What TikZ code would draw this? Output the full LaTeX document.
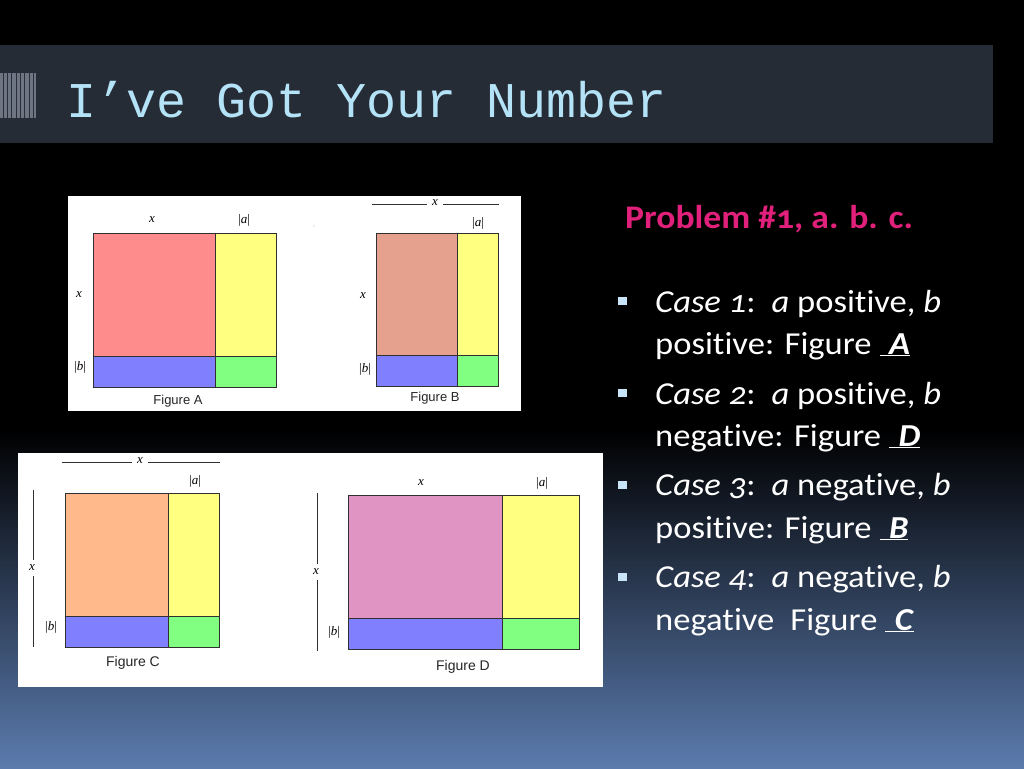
\documentclass[tikz,border=0pt]{standalone}
\usepackage{fontspec}
\setmainfont{Carlito}
\newfontfamily\titlefont{Liberation Mono}
\newfontfamily\figserif{Liberation Serif}
\newfontfamily\figsans{Liberation Sans}
\newfontfamily\slidefont[Numbers=OldStyle,FakeStretch=1.08,Ligatures=NoCommon]{Carlito}
\definecolor{bgblue}{HTML}{5B7BAE}
\definecolor{bgmid}{HTML}{1A2436}
\definecolor{titlebar}{HTML}{262C36}
\definecolor{titletext}{HTML}{B4E2F6}
\definecolor{iconlight}{HTML}{6E7684}
\definecolor{icondark}{HTML}{2A303A}
\definecolor{figA}{HTML}{FF8C8C}
\definecolor{figB}{HTML}{E6A08E}
\definecolor{figC}{HTML}{FFB98A}
\definecolor{figD}{HTML}{E094C4}
\definecolor{figyellow}{HTML}{FFFF80}
\definecolor{figblue}{HTML}{8080FF}
\definecolor{figgreen}{HTML}{80FF80}
\definecolor{figline}{HTML}{303030}
\definecolor{probcol}{HTML}{E0207A}
\definecolor{bulletcol}{HTML}{C8E4F8}
\newcommand\quadfig[7]{%
  \fill[#7] (#1,#2) rectangle (#3,#4);
  \fill[figyellow] (#3,#2) rectangle (#5,#4);
  \fill[figblue] (#1,#4) rectangle (#3,#6);
  \fill[figgreen] (#3,#4) rectangle (#5,#6);
  \draw[boxline] (#1,#2) rectangle (#5,#6) (#3,#2) -- (#3,#6) (#1,#4) -- (#5,#4);
}
\newcommand\ans[1]{\underline{\hspace{0.3em}\textbf{\textit{#1}}}}
\begin{document}
\begin{tikzpicture}[x=1pt,y=-1pt,
  boxline/.style={draw=figline, line width=0.9pt},
  dimline/.style={draw=figline, line width=0.8pt},
  lab/.style={font=\figserif\itshape\fontsize{13}{14}\selectfont, text=black, inner sep=1pt},
  gaplab/.style={lab, inner sep=5pt},
  figcap/.style={font=\figsans\fontsize{13}{14}\selectfont, text=black!85, inner sep=0pt},
  line/.style={anchor=base west, inner sep=0pt, text=white, font=\slidefont\fontsize{32}{36}\selectfont},
  bullet/.style={fill=bulletcol}
]
\useasboundingbox (0,0) rectangle (1024,768);
\fill[black] (0,0) rectangle (1024,768);
\shade[top color=black, middle color=bgmid, bottom color=bgblue] (0,430) rectangle (1024,768);

% title bar
\fill[titlebar] (0,45) rectangle (993,143);
\fill[iconlight] (0,73) rectangle (36,118);
\foreach \xx in {3,7,11,16,20,24,29,33}
  \fill[icondark] (\xx,73) rectangle (\xx+1.3,118);
\node[anchor=base west, inner sep=0pt, text=titletext, font=\titlefont\fontsize{50}{56}\selectfont] (title) at (66,117) {I’ve Got Your Number};

% panels
\fill[white] (68,196) rectangle (521,411);
\fill[white] (18,453) rectangle (603,687);

% Figure A
\quadfig{93}{233}{215}{356}{276}{387}{figA}
\node[lab] (Ax) at (152,220) {x};
\node[lab] (Aa) at (244,220) {\upshape|\itshape a\upshape|};
\node[lab] (Ay) at (79,295) {x};
\node[lab] (Ab) at (80,367) {\upshape|\itshape b\upshape|};
\node[figcap] (Acap) at (178,401) {Figure A};
\fill[gray!60] (314,226) circle (0.7);

% Figure B
\quadfig{376}{233}{457}{355}{498}{386}{figB}
\node[gaplab] (Bx) at (435,203) {x};
\coordinate (Bl) at (372,204);
\coordinate (Br) at (499,204);
\draw[dimline] (Bl) -- (Bx.west |- Bl);
\draw[dimline] (Bx.east |- Br) -- (Br);
\node[lab] (Ba) at (478,223) {\upshape|\itshape a\upshape|};
\node[lab] (By) at (363,296) {x};
\node[lab] (Bb) at (365,369) {\upshape|\itshape b\upshape|};
\node[figcap] (Bcap) at (435,398) {Figure B};

% Figure C
\quadfig{65}{493}{168}{616}{219}{647}{figC}
\node[gaplab] (Cx) at (140,461) {x};
\coordinate (Cl) at (62,462);
\coordinate (Cr) at (220,462);
\draw[dimline] (Cl) -- (Cx.west |- Cl);
\draw[dimline] (Cx.east |- Cr) -- (Cr);
\node[lab] (Ca) at (195,481) {\upshape|\itshape a\upshape|};
\node[gaplab] (Cy) at (32,568) {x};
\coordinate (Ct) at (33,490);
\coordinate (Cbt) at (33,647);
\draw[dimline] (Ct) -- (Ct |- Cy.north);
\draw[dimline] (Cbt |- Cy.south) -- (Cbt);
\node[lab] (Cb) at (51,627) {\upshape|\itshape b\upshape|};
\node[figcap, font=\figsans\fontsize{14}{15}\selectfont] (Ccap) at (133,663) {Figure C};

% Figure D
\quadfig{348}{495}{502}{618}{579}{649}{figD}
\node[lab] (Dx) at (421,483) {x};
\node[lab] (Da) at (542,483) {\upshape|\itshape a\upshape|};
\node[gaplab] (Dy) at (316,572) {x};
\coordinate (Dt) at (317,493);
\coordinate (Dbt) at (317,651);
\draw[dimline] (Dt) -- (Dt |- Dy.north);
\draw[dimline] (Dbt |- Dy.south) -- (Dbt);
\node[lab] (Db) at (334,632) {\upshape|\itshape b\upshape|};
\node[figcap, font=\figsans\fontsize{14}{15}\selectfont] (Dcap) at (463,667) {Figure D};

% right text
\node[anchor=base west, inner sep=0pt, text=probcol, font=\slidefont\bfseries\fontsize{33}{36}\selectfont] (prob) at (625,228) {Problem \#1, a. b. c.};

\foreach \yy in {297,389,481,573}
  \fill[bullet] (618,\yy) rectangle (627,\yy+8);

\node[line] (l1) at (655,312) {\textit{Case 1}:\enspace\textit{a} positive, \textit{b}};
\node[line] (l2) at (655,354) {positive: Figure \ans{A}};
\node[line] (l3) at (655,404) {\textit{Case 2}:\enspace\textit{a} positive, \textit{b}};
\node[line] (l4) at (655,446) {negative: Figure \ans{D}};
\node[line] (l5) at (655,495) {\textit{Case 3}:\enspace\textit{a} negative, \textit{b}};
\node[line] (l6) at (655,538) {positive: Figure \ans{B}};
\node[line] (l7) at (655,587) {\textit{Case 4}:\enspace\textit{a} negative, \textit{b}};
\node[line] (l8) at (655,630) {negative\enspace Figure \ans{C}};
\end{tikzpicture}
\end{document}
